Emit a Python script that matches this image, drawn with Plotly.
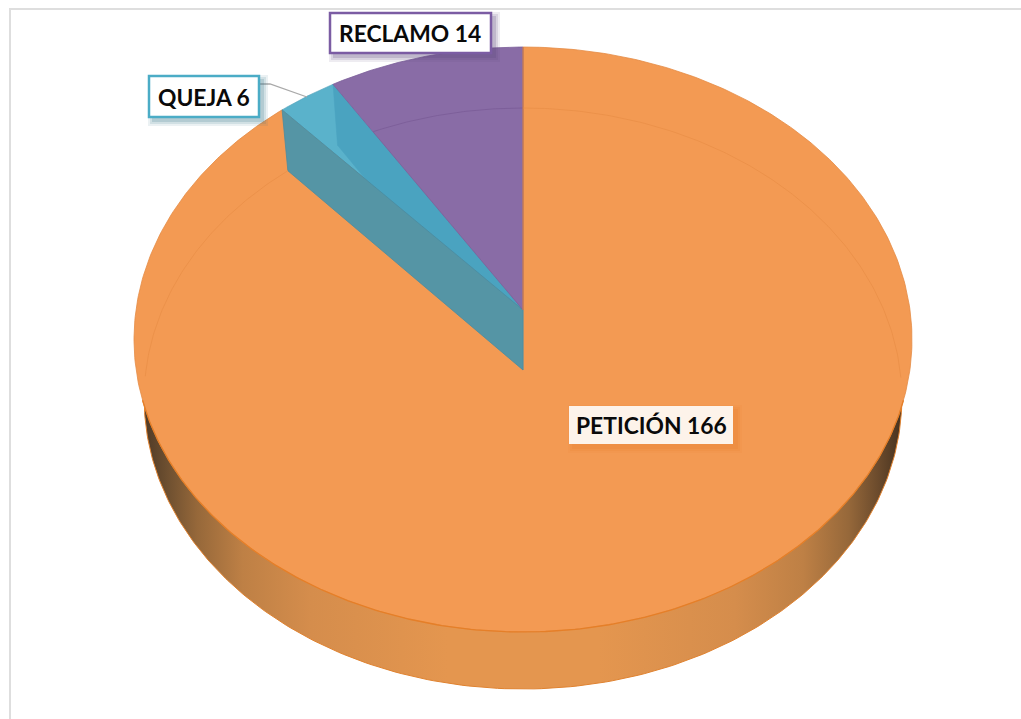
import numpy as np
import plotly.graph_objects as go

categories = ["PETICIÓN", "QUEJA", "RECLAMO"]
values = [166, 6, 14]
tick_labels = [f"{c} {v}" for c, v in zip(categories, values)]

ORANGE = "#f39a53"
PURPLE = "#896ca6"
BLUE_TOP = "#5ab2cb"
BLUE_WALL = "#4aa3c0"
TEAL_WALL = "#5595a5"

# Perspective of the disc: apex position, radius, vertical scale, foreshortening
TOP = dict(cx=523.0, cy=310.0, r=387.0, a=289.5, k=0.1009)
BOT = dict(cx=523.0, cy=370.0, r=377.0, a=287.7, k=0.0981)


def skew(t):
    """Angular distortion of the 3-D view (degrees -> degrees)."""
    t = np.asarray(t, dtype=float)
    return t + 1.65 * np.sin(np.radians(2 * t)) + 3.96 * np.sin(np.radians(4 * t))


def project(theta, d):
    t = np.radians(skew(theta))
    u, v = -np.sin(t), np.cos(t)
    w = 1 + d["k"] * v
    return d["cx"] + d["r"] * u / w, d["cy"] - d["a"] * v / w


def arc(a0, a1, d, n=240):
    return project(np.linspace(a0, a1, n), d)


total = sum(values)
rec_end = values[2] / total * 360
que_end = rec_end + values[1] / total * 360


def poly(x, y, fill, line=None, lw=0.8, **kw):
    return go.Scatter(
        x=list(x), y=list(y), mode="lines", fill="toself", fillcolor=fill,
        line=dict(color=line or fill, width=lw), hoverinfo="skip",
        showlegend=False, **kw)


def line(x, y, color, lw=1.0):
    return go.Scatter(x=list(x), y=list(y), mode="lines",
                      line=dict(color=color, width=lw),
                      hoverinfo="skip", showlegend=False)


fig = go.Figure()

# Side wall: the lower disc with a horizontal shading
bx, by = arc(0, 360, BOT, 480)
fig.add_trace(go.Scatter(
    x=bx, y=by, mode="lines", fill="toself",
    line=dict(color="#e0822f", width=1),
    fillgradient=dict(type="horizontal", colorscale=[
        [0.00, "#4f3a26"], [0.03, "#6d4f30"], [0.07, "#96683a"], [0.13, "#be8045"],
        [0.22, "#d58d4c"], [0.40, "#e4964f"], [0.60, "#e4964f"], [0.78, "#d58d4c"],
        [0.87, "#be8045"], [0.93, "#96683a"], [0.97, "#6a4a2c"], [1.00, "#46321f"],
    ]),
    hoverinfo="skip", showlegend=False))

# Top faces
ax0, ay0 = TOP["cx"], TOP["cy"]
bx0, by0 = BOT["cx"], BOT["cy"]

px, py = arc(que_end, 360, TOP, 480)
fig.add_trace(poly(np.r_[ax0, px, ax0], np.r_[ay0, py, ay0], ORANGE, "#e48b45", 0.8))

qx, qy = arc(rec_end, que_end, TOP, 40)
fig.add_trace(poly(np.r_[ax0, qx, ax0], np.r_[ay0, qy, ay0], BLUE_TOP, "#4f9fb8", 0.6))

# Walls seen through the faces
tx_r, ty_r = project(rec_end, TOP)
bx_r, by_r = project(rec_end, BOT)
fig.add_trace(poly([ax0, tx_r, bx_r, bx0, ax0], [ay0, ty_r, by_r, by0, ay0], BLUE_WALL, BLUE_WALL, 0.5))

tx_q, ty_q = project(que_end, TOP)
bx_q, by_q = project(que_end, BOT)
fig.add_trace(poly([ax0, tx_q, bx_q, bx0, ax0], [ay0, ty_q, by_q, by0, ay0], TEAL_WALL, "#4b8c9f", 0.8))

rx, ry = arc(0, rec_end, TOP, 60)
fig.add_trace(poly(np.r_[ax0, rx, ax0], np.r_[ay0, ry, ay0], PURPLE, "#7c5f9a", 0.8))

# Faint rim of the lower disc showing through
fx, fy = arc(que_end, 360, BOT, 480)
vis = fy < 380
fig.add_trace(line(fx[vis & (fx < 523)], fy[vis & (fx < 523)], "#ea8f48", 0.8))
fig.add_trace(line(fx[vis & (fx >= 523)], fy[vis & (fx >= 523)], "#ea8f48", 0.8))
gx, gy = arc(0, rec_end, BOT, 80)
slope = (tx_r - ax0) / (ty_r - ay0)
keep = gx > ax0 + slope * (gy - ay0)
fig.add_trace(line(gx[keep], gy[keep], "#7a5c97", 0.8))

# Strong front edge of the top face
ex, ey = arc(105, 255, TOP, 300)
fig.add_trace(line(ex, ey, "#e57f28", 1.3))
fig.add_trace(line([ax0, ax0], [ay0, TOP["cy"] - 263], "#d98243", 1.0))

# Leader line for the small slice
fig.add_trace(line([259, 270, 307], [84, 84, 97], "#a9a9a9", 1.3))

# Label boxes
shapes = [dict(type="rect", xref="x", yref="y", x0=10, y0=9, x1=1040, y1=740,
               line=dict(color="#dedede", width=2), fillcolor="rgba(0,0,0,0)", layer="below")]


def box(x0, y0, x1, y1, fill, border, shadow, off=4):
    for grow, alpha in ((5, 0.10), (3, 0.14), (1, 0.20)):
        shapes.append(dict(type="rect", xref="x", yref="y",
                           x0=x0 + off - grow, y0=y0 + off - grow,
                           x1=x1 + off + grow, y1=y1 + off + grow,
                           line=dict(width=0), fillcolor=f"rgba({shadow},{alpha})", layer="above"))
    shapes.append(dict(type="rect", xref="x", yref="y", x0=x0, y0=y0, x1=x1, y1=y1,
                       fillcolor=fill, layer="above",
                       line=dict(color=border, width=2.5 if border else 0)))


box(569, 406, 733, 444, "#fdf3ea", None, "232,125,45")
box(149, 76, 259, 117, "#ffffff", "#4bacc6", "60,120,140")
box(330, 13, 491, 53, "#ffffff", "#7b5ca3", "90,70,120")

label_pos = [(651, 425), (204, 97), (410, 33)]
annotations = [
    dict(x=x, y=y, xref="x", yref="y", text=f"<b>{t}</b>", showarrow=False,
         xanchor="center", yanchor="middle",
         font=dict(family="Lato, Carlito, sans-serif", size=22.8, color="#0a0a0a"))
    for t, (x, y) in zip(tick_labels, label_pos)
]

fig.update_layout(
    width=1021, height=719, margin=dict(l=0, r=0, t=0, b=0),
    paper_bgcolor="white", plot_bgcolor="white", showlegend=False,
    xaxis=dict(range=[0, 1021], visible=False, fixedrange=True),
    yaxis=dict(range=[719, 0], visible=False, fixedrange=True),
    shapes=shapes, annotations=annotations,
)

fig.write_html("out.html", config=dict(displayModeBar=False),
               post_script="document.body.style.margin='0';document.body.style.overflow='hidden';")
